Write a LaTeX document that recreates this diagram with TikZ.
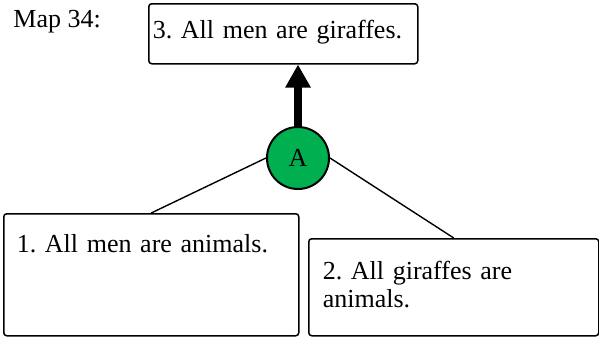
\documentclass[tikz,border=0pt]{standalone}
\usepackage{fontspec}
\setmainfont{Liberation Serif}
\usepackage{xcolor}
\usetikzlibrary{positioning,arrows.meta}
\definecolor{infgreen}{RGB}{0,176,80}

\begin{document}
\frenchspacing
\begin{tikzpicture}[
    x=0.5pt, y=-0.5pt,
    font=\fontsize{13}{13.75}\selectfont,
    claim/.style={draw, line width=0.75pt, rounded corners=1.5pt, anchor=north west, align=left, inner ysep=0pt},
    infer/.style={-{Triangle[width=12pt,length=11.5pt]}, line width=3.6pt},
    link/.style={line width=0.7pt}
]
\useasboundingbox (0,0) rectangle (599,337);

\node[anchor=base west, inner sep=0pt] (maplabel) at (13,27) {Map 34:};

\node[claim, inner xsep=2pt, text width=130.5pt, text height=17.5pt, text depth=12.5pt] (c3) at (148,3) {3. All men are giraffes.};
\node[claim, inner xsep=6.5pt, text width=134.5pt, text height=19.5pt, text depth=41.5pt] (p1) at (3,213) {1. All men are animals.};
\node[claim, inner xsep=7pt, text width=131pt, text height=20.5pt, text depth=28pt] (p2) at (308,238) {2. All giraffes are\\animals.};

\node[circle, draw, line width=1pt, fill=infgreen, minimum size=31pt, inner sep=0pt] (a) at (298,158) {A};

\draw[infer] (a.north) -- (a.north |- c3.south);
\draw[link] (a.west) -- (p1.north);
\draw[link] (a.east) -- (p2.north);

\end{tikzpicture}
\end{document}
